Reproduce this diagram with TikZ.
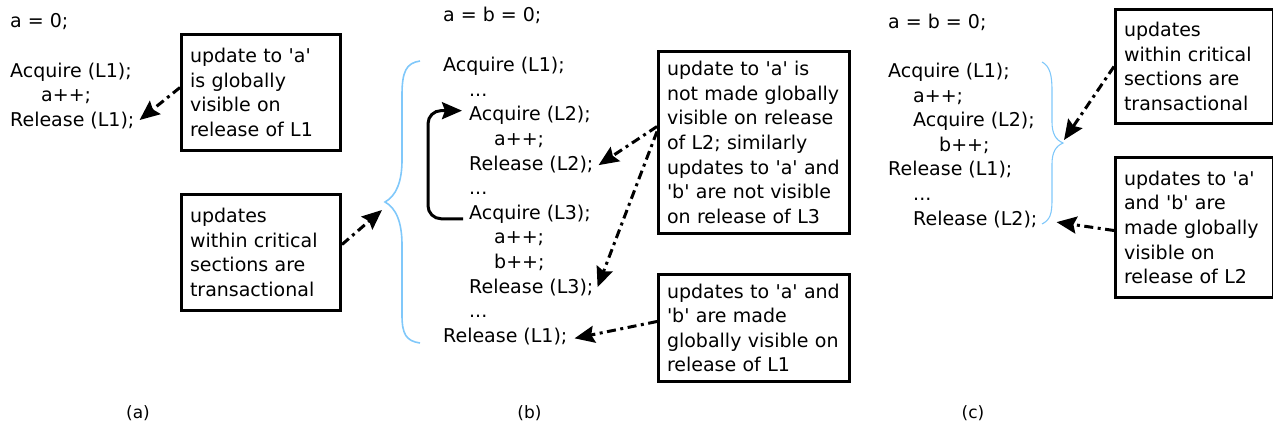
\documentclass[tikz,border=0pt]{standalone}
\usepackage{fontspec}
\setmainfont{DejaVu Sans}
\newfontfamily\captionfont{DejaVu Sans}
\usetikzlibrary{arrows.meta,calc}
\definecolor{bracecol}{RGB}{128,200,250}
\newcommand{\sq}{\textquotesingle}
\tikzset{
  code/.style={anchor=base west, inner sep=0pt, font=\fontsize{19}{24.6}\selectfont},
  note/.style={draw, line width=3pt, anchor=north west, align=left,
    inner xsep=8.5pt, inner ysep=0pt, font=\fontsize{19}{24.6}\selectfont},
  callout/.style={line width=3pt, dash pattern=on 9pt off 4.5pt on 3pt off 4.5pt,
    -{Stealth[length=20pt,width=17pt,inset=3pt]}},
  looparrow/.style={line width=3pt, rounded corners=13pt,
    -{Stealth[length=20pt,width=17pt,inset=3pt]}},
  bracethick/.style={draw=bracecol, line width=1.6pt},
  bracethin/.style={draw=bracecol, line width=1.1pt},
  caption/.style={font=\captionfont\fontsize{17}{20}\selectfont, inner sep=0pt}
}
\begin{document}
\begin{tikzpicture}[x=1pt,y=-1pt]
\useasboundingbox (0,0) rectangle (1273,426);

% ---------------- (a) single lock ----------------
\node[code] (aInit) at (10,27.5)  {a = 0;};
\node[code] (aAcq)  at (10,77)    {Acquire (L1);};
\node[code] (aInc)  at (41,101.5) {a++;};
\node[code] (aRel)  at (10,126)   {Release (L1);};

\node[note, text width=142pt, minimum height=116pt] (B1) at (180,33)
  {update to \sq a\sq\\is globally\\visible on\\release of L1};
\node[note, text width=142pt, minimum height=116pt] (B2) at (180,193)
  {updates\\within critical\\sections are\\transactional};

\draw[callout] ([yshift=5pt]B1.west) -- ([xshift=5pt]aRel.east);

% ---------------- (b) nested locks ----------------
\coordinate (braceA) at (385,202);
\draw[bracethick] (420,61) .. controls (406,63) and (402,72) .. (402,95)
  -- (402,160) .. controls (402,182) and (396,196) .. (braceA)
  .. controls (396,208) and (402,222) .. (402,245)
  -- (402,315) .. controls (402,334) and (406,341) .. (420,343);

\draw[callout] ([yshift=8pt]B2.east) -- ([xshift=-3pt,yshift=-8pt]braceA);

\node[code] (bInit) at (443,21.7)  {a = b = 0;};
\node[code] (bAcqA) at (443,71.7)  {Acquire (L1);};
\node[code] (bDotA) at (469,96.3)  {...};
\node[code] (bAcqB) at (469,120.9) {Acquire (L2);};
\node[code] (bIncA) at (494,145.5) {a++;};
\node[code] (bRelB) at (469,170.1) {Release (L2);};
\node[code] (bDotB) at (469,194.7) {...};
\node[code] (bAcqC) at (469,219.3) {Acquire (L3);};
\node[code] (bIncB) at (494,243.9) {a++;};
\node[code] (bIncC) at (494,268.5) {b++;};
\node[code] (bRelC) at (469,293.1) {Release (L3);};
\node[code] (bDotC) at (469,317.7) {...};
\node[code] (bRelA) at (443,342.3) {Release (L1);};

\coordinate (loopS) at ([xshift=-6pt,yshift=-4.7pt]bAcqC.west);
\coordinate (loopE) at ([xshift=-7pt,yshift=5pt]bAcqB.west);
\draw[looparrow] (loopS) -| ($(loopE)+(-34,0)$) -- (loopE);

\node[note, text width=174pt, minimum height=182pt] (B3) at (657,50)
  {update to \sq a\sq{} is\\not made globally\\visible on release\\of L2; similarly\\updates to \sq a\sq{} and\\\sq b\sq{} are not visible\\on release of L3};
\node[note, text width=174pt, minimum height=107pt] (B4) at (657,273)
  {updates to \sq a\sq{} and\\\sq b\sq{} are made\\globally visible on\\release of L1};

\draw[callout] ([yshift=16pt]B3.west) -- ([xshift=5pt,yshift=-1pt]bRelB.east);
\draw[callout] ([yshift=11pt]B3.west) -- ([xshift=4pt]bRelC.east);
\draw[callout] ([yshift=6.5pt]B4.west) -- ([xshift=7pt,yshift=-2pt]bRelA.east);

% ---------------- (c) overlapping locks ----------------
\node[code] (cInit) at (888,28)    {a = b = 0;};
\node[code] (cAcqA) at (888,77.5)  {Acquire (L1);};
\node[code] (cIncA) at (913,102.1) {a++;};
\node[code] (cAcqB) at (913,126.7) {Acquire (L2);};
\node[code] (cIncB) at (939,151.3) {b++;};
\node[code] (cRelA) at (888,175.9) {Release (L1);};
\node[code] (cDot)  at (913,200.5) {...};
\node[code] (cRelB) at (913,225.1) {Release (L2);};

\coordinate (braceC) at (1063,143);
\draw[bracethin] (1042,62) .. controls (1050,66) and (1052,76) .. (1052,90)
  -- (1052,122) .. controls (1052,134) and (1056,140) .. (braceC)
  .. controls (1056,146) and (1052,152) .. (1052,164)
  -- (1052,200) .. controls (1052,214) and (1050,220) .. (1042,224);

\node[note, text width=141pt, minimum height=114pt] (B5) at (1114,8)
  {updates\\within critical\\sections are\\transactional};
\node[note, text width=141pt, minimum height=140pt] (B6) at (1114,156)
  {updates to \sq a\sq\\and \sq b\sq{} are\\made globally\\visible on\\release of L2};

\draw[callout] (B5.west) -- ([xshift=1pt,yshift=3pt]braceC);
\draw[callout] ([yshift=-3pt]B6.west) -- ([xshift=19pt,yshift=-3pt]cRelB.east);

% ---------------- captions ----------------
\node[caption] (capA) at (138,413)   {(a)};
\node[caption] (capB) at (529.5,413) {(b)};
\node[caption] (capC) at (973,413)   {(c)};
\end{tikzpicture}
\end{document}
